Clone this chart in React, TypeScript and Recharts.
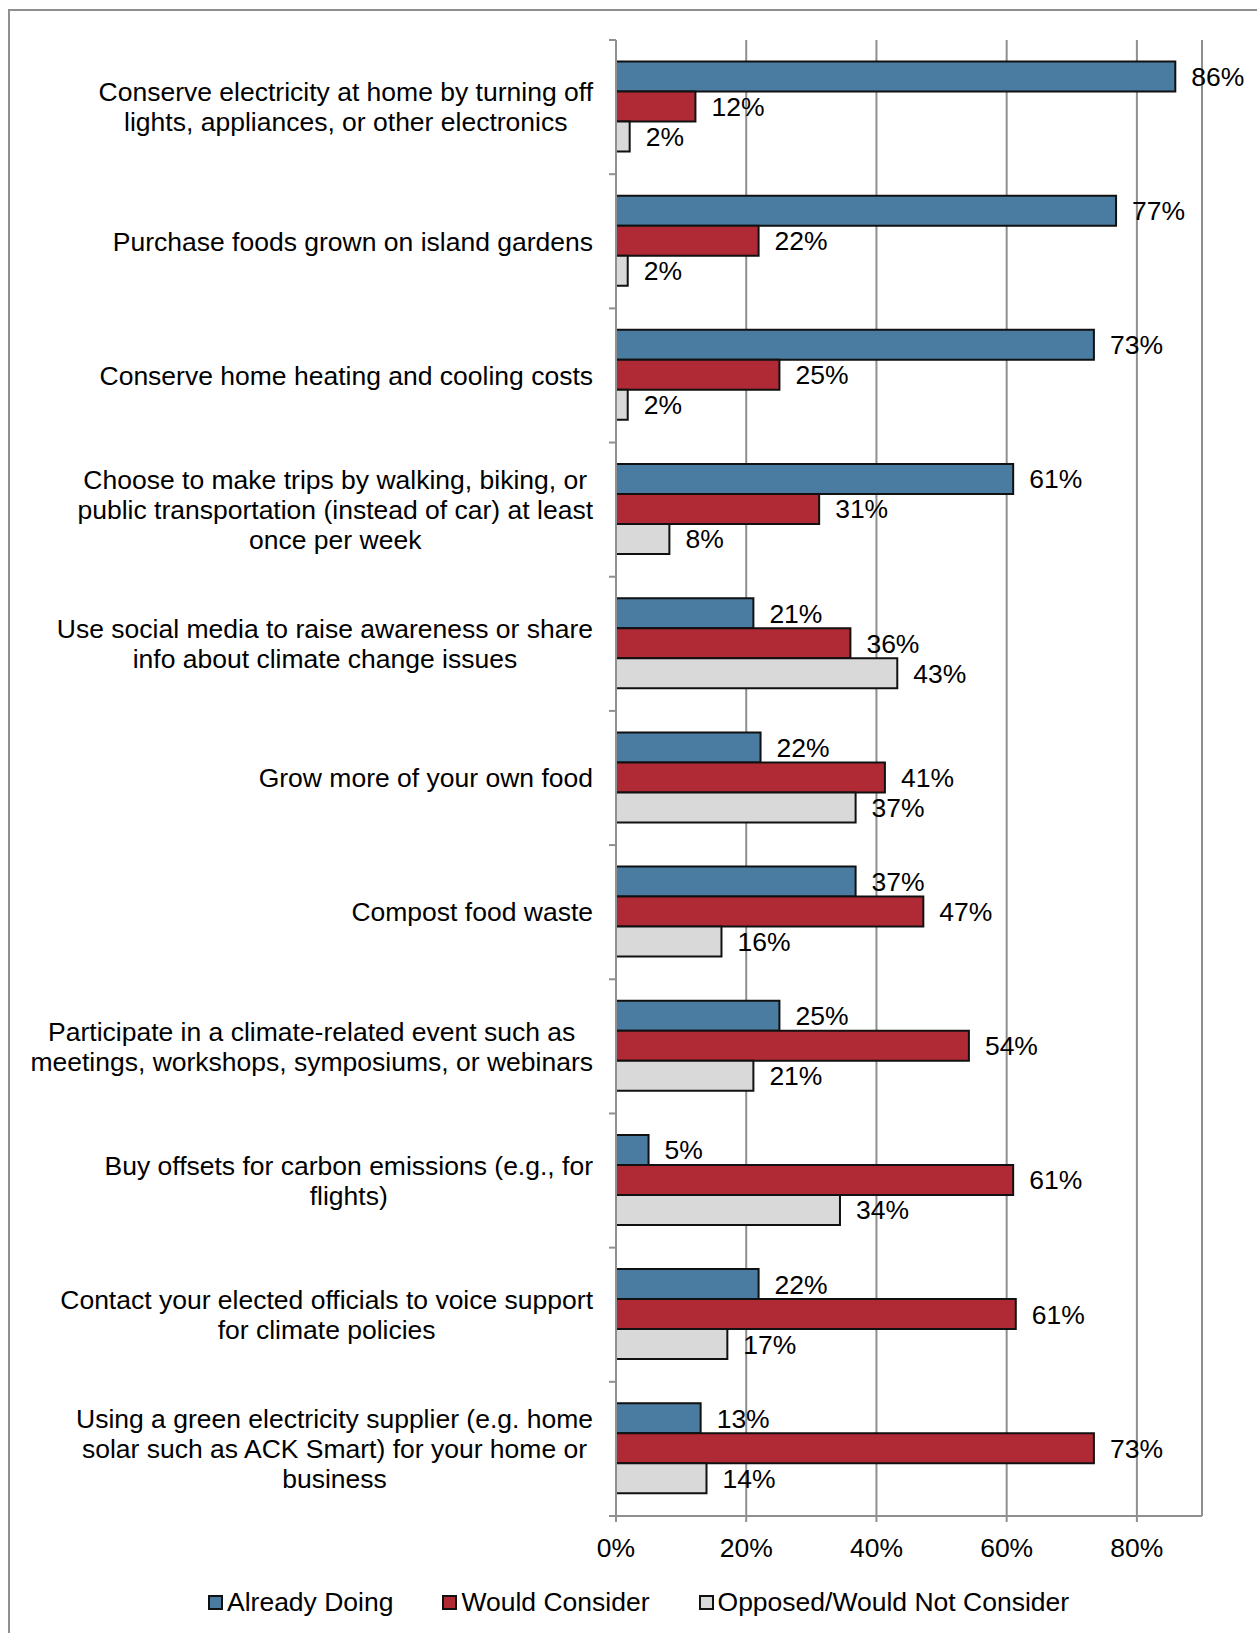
import { BarChart, Bar, XAxis, YAxis, CartesianGrid, LabelList } from 'recharts'

const categories = [
  'Conserve electricity at home by turning off\nlights, appliances, or other electronics',
  'Purchase foods grown on island gardens',
  'Conserve home heating and cooling costs',
  'Choose to make trips by walking, biking, or\npublic transportation (instead of car) at least\nonce per week',
  'Use social media to raise awareness or share\ninfo about climate change issues',
  'Grow more of your own food',
  'Compost food waste',
  'Participate in a climate-related event such as\nmeetings, workshops, symposiums, or webinars',
  'Buy offsets for carbon emissions (e.g., for\nflights)',
  'Contact your elected officials to voice support\nfor climate policies',
  'Using a green electricity supplier (e.g. home\nsolar such as ACK Smart) for your home or\nbusiness',
]
const alreadyDoing = [85.9, 76.8, 73.4, 61.0, 21.1, 22.2, 36.8, 25.1, 5.0, 21.9, 13.0]
const wouldConsider = [12.2, 21.9, 25.1, 31.2, 36.0, 41.3, 47.2, 54.2, 61.0, 61.4, 73.4]
const opposed = [2.1, 1.8, 1.8, 8.2, 43.2, 36.8, 16.2, 21.1, 34.4, 17.1, 13.9]
const xTicks = [0, 20, 40, 60, 80]

const data = categories.map((name, i) => ({
  name,
  doing: alreadyDoing[i],
  consider: wouldConsider[i],
  opposed: opposed[i],
}))

const FONT = '"Liberation Sans", Arial, sans-serif'
const FS = 26.5
const LINE_H = 30.2
const GRAY = '#8f8f8f'
const EDGE = '#111'
const BLUE = '#4a7ba0'
const RED = '#b02a35'
const LIGHT = '#d9d9d9'

const PLOT_TOP = 40
const PLOT_BOTTOM = 1516
const AXIS_X = 616
const LABEL_GAP = 23

let ctx: CanvasRenderingContext2D | null = null
function measure(s: string) {
  if (!ctx) ctx = document.createElement('canvas').getContext('2d')
  if (!ctx) return s.length * FS * 0.5
  ctx.font = `${FS}px "Liberation Sans"`
  return ctx.measureText(s).width
}

function CategoryTick(props: any) {
  const { x, y, payload } = props
  const lines: string[] = String(payload.value).split('\n')
  const maxW = Math.max(...lines.map(measure))
  const cx = x - maxW / 2
  const startY = y - ((lines.length - 1) * LINE_H) / 2
  const band = (PLOT_BOTTOM - PLOT_TOP) / categories.length
  const ax = x + LABEL_GAP
  const last = payload.value === categories[categories.length - 1]
  return (
    <g>
      <line x1={ax - 7} x2={ax} y1={y - band / 2} y2={y - band / 2} stroke={GRAY} strokeWidth={2} />
      {last && <line x1={ax - 7} x2={ax} y1={y + band / 2} y2={y + band / 2} stroke={GRAY} strokeWidth={2} />}
      <text textAnchor="middle" fontFamily={FONT} fontSize={FS} fill="#000">
        {lines.map((l, i) => (
          <tspan key={i} x={cx} y={startY + i * LINE_H} dy="0.35em">
            {l}
          </tspan>
        ))}
      </text>
    </g>
  )
}

const pct = (v: any) => `${Math.round(Number(v))}%`

const legendItems = [
  { label: 'Already Doing', color: BLUE },
  { label: 'Would Consider', color: RED },
  { label: 'Opposed/Would Not Consider', color: LIGHT },
]

export default function App() {
  const labelStyle = { fontFamily: FONT, fontSize: FS, fill: '#000' }
  return (
    <div style={{ position: 'relative', width: 1257, height: 1633, fontFamily: FONT }}>
      <style>{`body{margin:0;overflow:hidden}`}</style>
      <div
        style={{
          position: 'absolute',
          left: 8,
          top: 9,
          width: 1249,
          height: 1624,
          borderLeft: `2px solid ${GRAY}`,
          borderTop: `2px solid ${GRAY}`,
          boxSizing: 'border-box',
        }}
      />
      <div style={{ position: 'absolute', left: 0, top: 0 }}>
        <BarChart
          width={1257}
          height={1570}
          data={data}
          layout="vertical"
          margin={{ top: PLOT_TOP, right: 55, left: 0, bottom: 0 }}
          barCategoryGap="16%"
          barGap={0}
        >
          <CartesianGrid horizontal={false} stroke={GRAY} strokeWidth={2} />
          <XAxis
            type="number"
            domain={[0, 90]}
            ticks={xTicks}
            tickFormatter={(v) => `${v}%`}
            axisLine={{ stroke: GRAY, strokeWidth: 2 }}
            tickLine={{ stroke: GRAY, strokeWidth: 2 }}
            tickSize={6}
            tickMargin={16}
            height={1570 - PLOT_BOTTOM}
            tick={{ ...labelStyle }}
          />
          <YAxis
            type="category"
            dataKey="name"
            width={AXIS_X}
            axisLine={{ stroke: GRAY, strokeWidth: 2 }}
            tickLine={false}
            tickSize={0}
            tickMargin={LABEL_GAP}
            interval={0}
            tick={<CategoryTick />}
          />
          <Bar dataKey="doing" name="Already Doing" fill={BLUE} stroke={EDGE} strokeWidth={2} isAnimationActive={false}>
            <LabelList dataKey="doing" position="right" offset={16} formatter={pct} style={labelStyle} />
          </Bar>
          <Bar dataKey="consider" name="Would Consider" fill={RED} stroke={EDGE} strokeWidth={2} isAnimationActive={false}>
            <LabelList dataKey="consider" position="right" offset={16} formatter={pct} style={labelStyle} />
          </Bar>
          <Bar dataKey="opposed" name="Opposed/Would Not Consider" fill={LIGHT} stroke={EDGE} strokeWidth={2} isAnimationActive={false}>
            <LabelList dataKey="opposed" position="right" offset={16} formatter={pct} style={labelStyle} />
          </Bar>
        </BarChart>
      </div>
      <div
        style={{
          position: 'absolute',
          left: 208,
          top: 1587,
          display: 'flex',
          alignItems: 'center',
          gap: 49,
          fontSize: FS,
          lineHeight: '30px',
          color: '#000',
        }}
      >
        {legendItems.map((it) => (
          <div key={it.label} style={{ display: 'flex', alignItems: 'center' }}>
            <span
              style={{
                display: 'inline-block',
                width: 15,
                height: 15,
                background: it.color,
                border: `2px solid ${EDGE}`,
                boxSizing: 'border-box',
                marginRight: 4,
              }}
            />
            {it.label}
          </div>
        ))}
      </div>
    </div>
  )
}
